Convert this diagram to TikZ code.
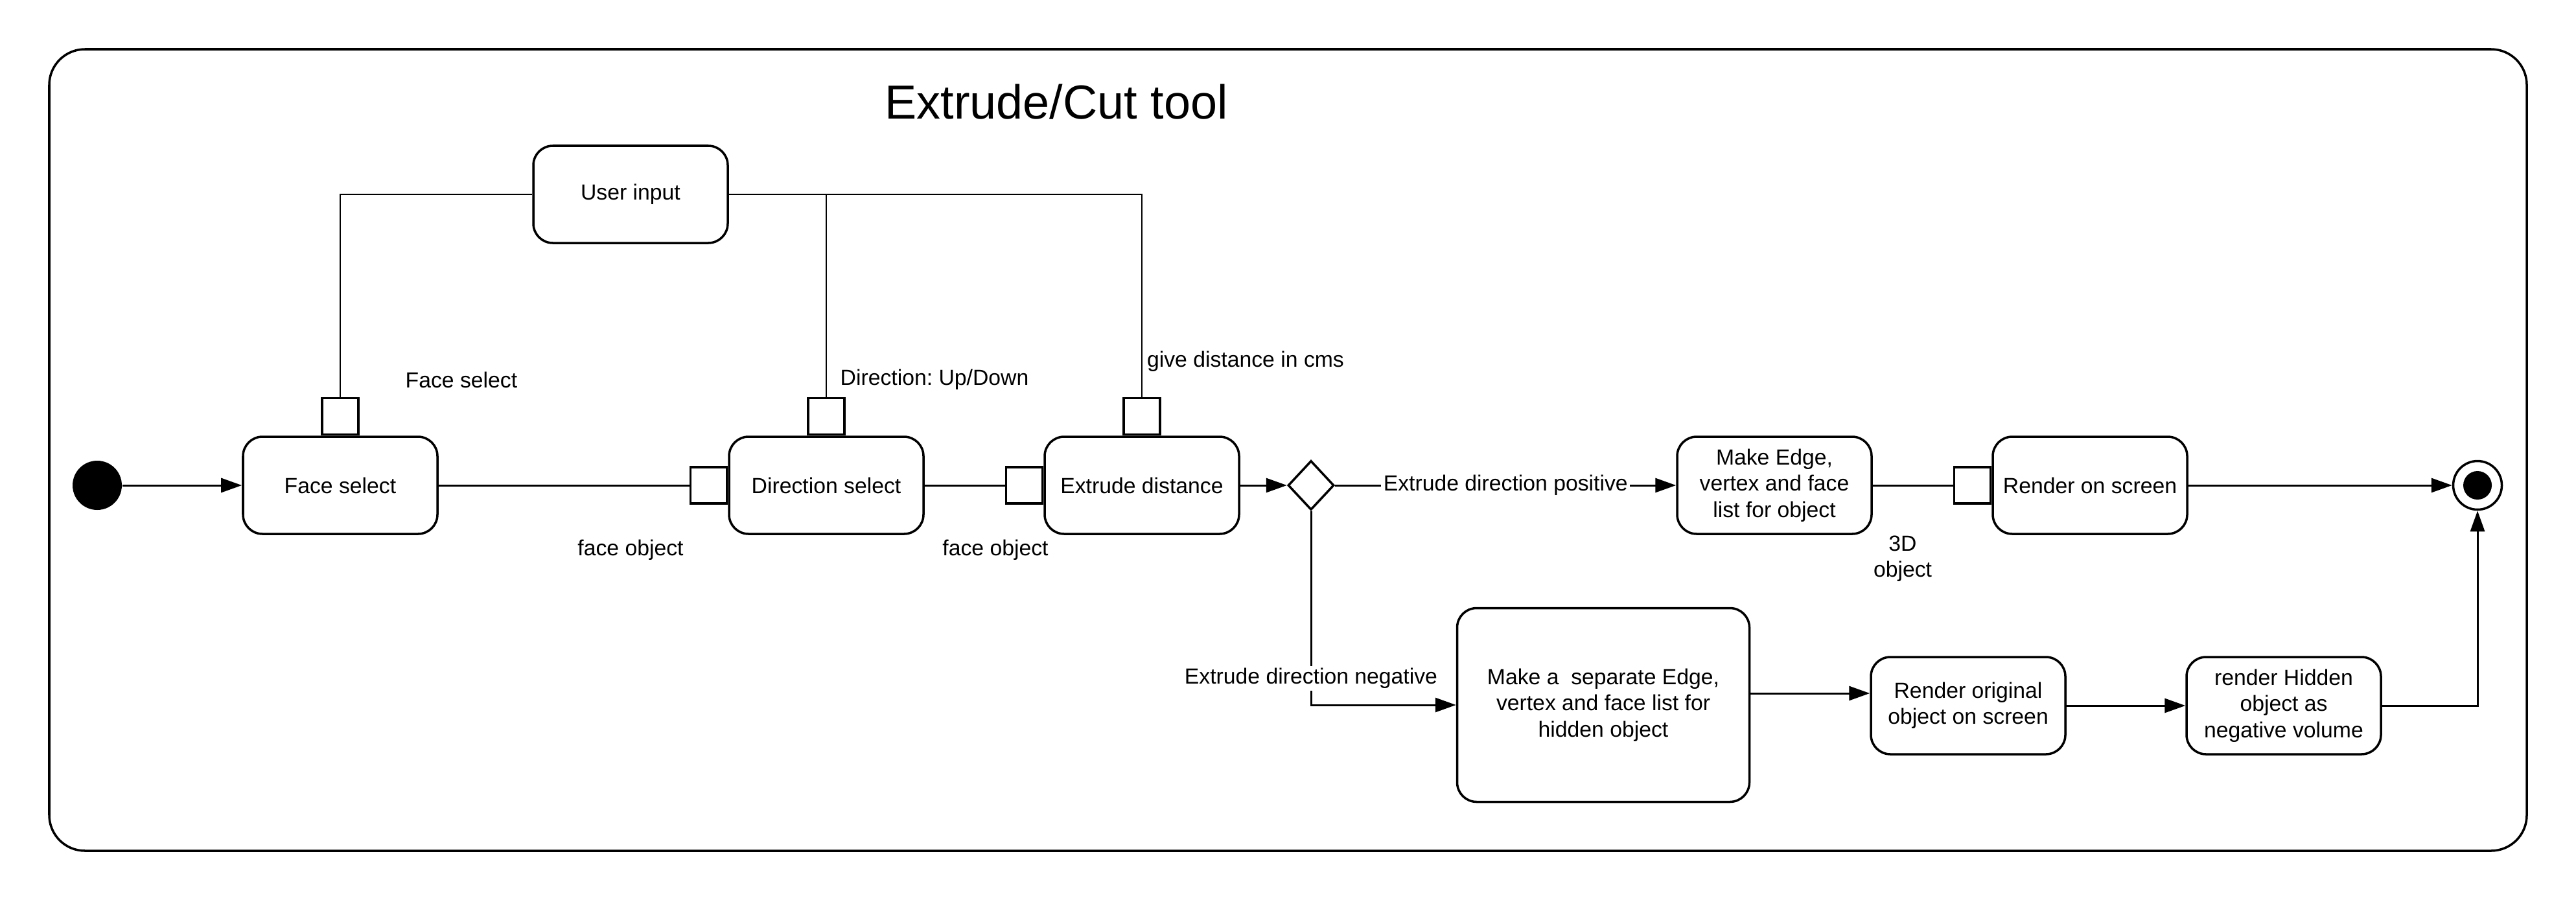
\documentclass[tikz,border=0pt]{standalone}
\usepackage{fontspec}
\setmainfont{Liberation Sans}
\usetikzlibrary{arrows.meta,shapes.geometric}
\frenchspacing

\begin{document}
\begin{tikzpicture}[
    >={Triangle[length=0.32cm,width=0.22cm]},
    every node/.style={font=\fontsize{9.6}{11.5}\selectfont},
    action/.style={draw, line width=1pt, rounded corners=0.3cm, minimum width=3cm, minimum height=1.5cm, align=center, inner sep=2pt},
    pinbox/.style={draw, line width=1pt, minimum size=0.56cm, inner sep=0pt},
    flow/.style={line width=0.85pt},
    feed/.style={line width=0.65pt},
    edgetext/.style={fill=white, inner sep=1pt}
]
    \useasboundingbox (0,0) rectangle (39.75,-13.88);
    \draw[rounded corners=0.55cm, line width=1pt] (0.76,-0.76) rectangle (38.99,-13.13);
    \node[font=\fontsize{21}{25}\selectfont] (title) at (16.30,-1.57) {Extrude/Cut tool};

    \node[action] (input) at (9.73,-3.00) {User input};
    \node[action] (face) at (5.25,-7.49) {Face select};
    \node[action] (direction) at (12.75,-7.49) {Direction select};
    \node[action] (distance) at (17.62,-7.49) {Extrude distance};
    \node[action] (edgelist) at (27.38,-7.49) {Make Edge,\\vertex and face\\list for object};
    \node[action] (render) at (32.25,-7.49) {Render on screen};
    \node[action, minimum width=4.51cm, minimum height=2.99cm] (hiddenlist) at (24.74,-10.88) {Make a\ \ separate Edge,\\vertex and face list for\\hidden object};
    \node[action] (original) at (30.37,-10.89) {Render original\\object on screen};
    \node[action] (negative) at (35.24,-10.89) {render Hidden\\object as\\negative volume};

    \node[pinbox, anchor=south] (facepin) at (face.north) {};
    \node[pinbox, anchor=south] (directionpin) at (direction.north) {};
    \node[pinbox, anchor=south] (distancepin) at (distance.north) {};
    \node[pinbox, anchor=east] (directionin) at (direction.west) {};
    \node[pinbox, anchor=east] (distancein) at (distance.west) {};
    \node[pinbox, anchor=east] (renderin) at (render.west) {};

    \node[circle, fill=black, minimum size=0.76cm, inner sep=0pt] (start) at (1.50,-7.49) {};
    \node[diamond, draw, line width=1pt, minimum width=0.71cm, minimum height=0.76cm, inner sep=0pt] (choice) at (20.23,-7.49) {};
    \node[circle, draw, line width=1pt, minimum size=0.75cm, inner sep=0pt] (final) at (38.23,-7.49) {};
    \node[circle, fill=black, minimum size=0.44cm, inner sep=0pt] (finaldot) at (final) {};

    \draw[feed] (input.west) -| (facepin.north);
    \draw[feed] (input.east) -| (distancepin.north);
    \draw[feed] (directionpin.north) -- (directionpin.north |- input.east);

    \draw[flow, ->] (start) -- (face);
    \draw[flow] (face) -- (directionin);
    \draw[flow] (direction) -- (distancein);
    \draw[flow, ->] (distance) -- (choice);
    \draw[flow, ->] (choice) -- node[edgetext] (positivelabel) {Extrude direction positive} (edgelist);
    \draw[flow] (edgelist) -- (renderin);
    \draw[flow, ->] (render) -- (final);
    \draw[flow, ->] (choice) |- (hiddenlist);
    \draw[flow, ->] ([yshift=0.18cm]hiddenlist.east) -- ([yshift=0.18cm]hiddenlist.east -| original.west);
    \draw[flow, ->] (original) -- (negative);
    \draw[flow, ->] (negative) -| (final);

    \node (facelabel) at (7.12,-5.86) {Face select};
    \node (directionlabel) at (14.42,-5.86) {Direction: Up/Down};
    \node (distancelabel) at (19.22,-5.58) {give distance in cms};
    \node (faceobject) at (9.73,-8.49) {face object};
    \node (faceobjecttwo) at (15.36,-8.49) {face object};
    \node[align=center] (solid) at (29.36,-8.62) {3D\\object};
    \node[edgetext] (negativelabel) at (20.23,-10.47) {Extrude direction negative};

\end{tikzpicture}
\end{document}
